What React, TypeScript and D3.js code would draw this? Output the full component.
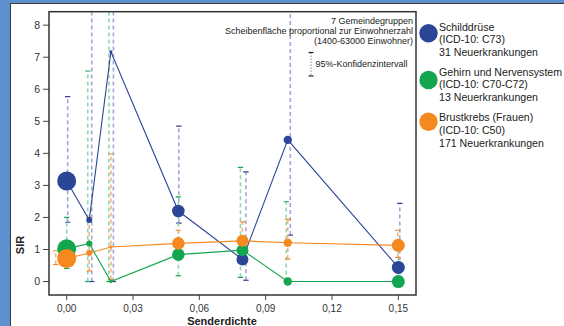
import React from "react";
import * as d3 from "d3";

// Gemeindegruppen (Senderdichte) and their population
const groupX = [0, 0.0102, 0.02, 0.0505, 0.0795, 0.1, 0.15];
const groupPop = [63000, 6300, 1800, 27700, 25100, 12300, 29500];

// Schilddrüse
const thyroidSIR = [3.14, 1.92, 7.17, 2.2, 0.69, 4.42, 0.44];
const thyroidLow = [1.85, 0, 0, 1.82, 0.04, 1.45, 0];
const thyroidHigh = [5.77, 20, 20, 4.85, 3.42, 20, 2.44];

// Gehirn und Nervensystem
const brainSIR = [1.02, 1.19, 0, 0.84, 0.98, 0, 0];
const brainLow = [0.41, 0, 0, 0.18, 0.13, 0, 0];
const brainHigh = [2.0, 6.57, 20, 2.64, 3.56, 2.49, 1.24];

// Brustkrebs (Frauen)
const breastSIR = [0.72, 0.89, 1.08, 1.19, 1.27, 1.21, 1.13];
const breastLow = [0.53, 0.33, 0.06, 0.85, 0.9, 0.7, 0.75];
const breastHigh = [0.96, 2.0, 3.98, 1.6, 1.86, 1.94, 1.6];

const xTicks = [0, 0.03, 0.06, 0.09, 0.12, 0.15];
const yTicks = [0, 1, 2, 3, 4, 5, 6, 7, 8];

const legendLines = [
  ["Schilddrüse", "(ICD-10: C73)", "31 Neuerkrankungen"],
  ["Gehirn und Nervensystem", "(ICD-10: C70-C72)", "13 Neuerkrankungen"],
  ["Brustkrebs (Frauen)", "(ICD-10: C50)", "171 Neuerkrankungen"],
];

const series = [
  { sir: thyroidSIR, lo: thyroidLow, hi: thyroidHigh, color: "#2b4597", light: "#a3a6da", cap: "#3a3f95", shift: [1, 2.5, 2.5, 0.5, 3.5, 2.5, 1.5] },
  { sir: brainSIR, lo: brainLow, hi: brainHigh, color: "#12a650", light: "#8fd8ad", cap: "#1ea85a", shift: [0, -1.5, -2, 0, -2, -1.5, 0] },
  { sir: breastSIR, lo: breastLow, hi: breastHigh, color: "#f5891f", light: "#f7b482", cap: "#f28a2a", shift: [-11, 0, 0, 0, 0, 0, -0.5] },
];

const font = "'Liberation Sans', Arial, sans-serif";

export default function App() {
  const W = 564;
  const H = 326;
  const plot = { left: 49, right: 416, top: 11.7, bottom: 295 };

  const x = d3.scaleLinear().domain([-0.008, 0.158]).range([plot.left, plot.right]);
  const y = d3.scaleLinear().domain([-0.42, 8.42]).range([plot.bottom, plot.top]);
  const r = d3.scaleSqrt().domain([0, 63000]).range([0, 9.5]);
  const line = d3
    .line<number>()
    .x((_, i) => x(groupX[i]))
    .y((d) => y(d));
  const fmt = (v: number) => d3.format(".2f")(v).replace(".", ",");

  return (
    <svg
      width={W}
      height={H}
      style={{ position: "absolute", left: 0, top: 0, fontFamily: font }}
    >
      <defs>
        <clipPath id="plotClip">
          <rect x={plot.left} y={plot.top} width={plot.right - plot.left} height={plot.bottom - plot.top} />
        </clipPath>
      </defs>

      {/* panel background */}
      <rect x={0} y={0} width={W} height={H} fill="#5e8fcf" />
      <rect x={10} y={3} width={W - 10} height={H - 3} fill="#ffffff" />
      <line x1={10.5} y1={3} x2={10.5} y2={H} stroke="#3b3b3b" strokeWidth={1} />
      <line x1={10} y1={3.5} x2={W} y2={3.5} stroke="#3b3b3b" strokeWidth={1} />

      {/* y axis */}
      {yTicks.map((t) => (
        <g key={"y" + t}>
          <line x1={plot.left - 6} x2={plot.left} y1={y(t)} y2={y(t)} stroke="#444" strokeWidth={1} />
          <text x={plot.left - 9} y={y(t)} dy="0.36em" textAnchor="end" fontSize={10.5} fill="#333">
            {t}
          </text>
        </g>
      ))}
      {/* x axis */}
      {xTicks.map((t) => (
        <g key={"x" + t}>
          <line x1={x(t)} x2={x(t)} y1={plot.bottom} y2={plot.bottom + 5} stroke="#444" strokeWidth={1} />
          <text x={x(t)} y={312} textAnchor="middle" fontSize={10} fill="#333">
            {fmt(t)}
          </text>
        </g>
      ))}
      <text x={222} y={325} textAnchor="middle" fontSize={11} fontWeight="bold" fill="#222">
        Senderdichte
      </text>
      <text
        transform="translate(24,245) rotate(-90)"
        textAnchor="middle"
        fontSize={11}
        fontWeight="bold"
        fill="#222"
      >
        SIR
      </text>

      {/* confidence intervals */}
      <g clipPath="url(#plotClip)">
        {series.map((s, si) =>
          groupX.map((gx, i) => {
            const cx = x(gx) + s.shift[i];
            return (
              <g key={`ci${si}-${i}`}>
                <line
                  x1={cx}
                  x2={cx}
                  y1={y(s.lo[i])}
                  y2={y(s.hi[i])}
                  stroke={s.light}
                  strokeWidth={1.6}
                  strokeDasharray="4,3"
                />
                {[s.lo[i], s.hi[i]].map((v, k) => (
                  <line
                    key={k}
                    x1={cx - 2.7}
                    x2={cx + 2.7}
                    y1={y(v)}
                    y2={y(v)}
                    stroke={s.cap}
                    strokeWidth={1.2}
                  />
                ))}
              </g>
            );
          })
        )}
      </g>

      {/* lines and discs */}
      {series.map((s, si) => (
        <g key={"s" + si}>
          <path d={line(s.sir) || ""} fill="none" stroke={s.color} strokeWidth={1.1} />
          {s.sir.map((v, i) => (
            <circle key={i} cx={x(groupX[i])} cy={y(v)} r={Math.max(1.6, r(groupPop[i]))} fill={s.color} />
          ))}
        </g>
      ))}

      {/* plot frame */}
      <rect
        x={plot.left}
        y={plot.top}
        width={plot.right - plot.left}
        height={plot.bottom - plot.top}
        fill="none"
        stroke="#333"
        strokeWidth={1.5}
      />

      {/* annotation */}
      <g fontSize={9} fill="#222" textAnchor="end">
        <text x={413} y={23.5}>7 Gemeindegruppen</text>
        <text x={413} y={33.8}>Scheibenfläche proportional zur Einwohnerzahl</text>
        <text x={413} y={44.1}>(1400-63000 Einwohner)</text>
      </g>
      <line x1={311} x2={311} y1={52.5} y2={76} stroke="#888" strokeWidth={1} strokeDasharray="1.5,1.5" />
      <line x1={308.5} x2={313.5} y1={52.5} y2={52.5} stroke="#222" strokeWidth={1.2} />
      <line x1={308.5} x2={313.5} y1={76} y2={76} stroke="#222" strokeWidth={1.2} />
      <text x={315.5} y={66.5} fontSize={9} fill="#222">
        95%-Konfidenzintervall
      </text>

      {/* legend */}
      {legendLines.map((lines, li) => {
        const base = [30.7, 75.7, 121.3][li];
        const cy = [33.3, 80, 121.7][li];
        return (
          <g key={"lg" + li}>
            <circle cx={428.5} cy={cy} r={9.2} fill={series[li].color} />
            {lines.map((t, k) => (
              <text key={k} x={439} y={base + k * 12.7} fontSize={10.6} fill="#222">
                {t}
              </text>
            ))}
          </g>
        );
      })}
    </svg>
  );
}
